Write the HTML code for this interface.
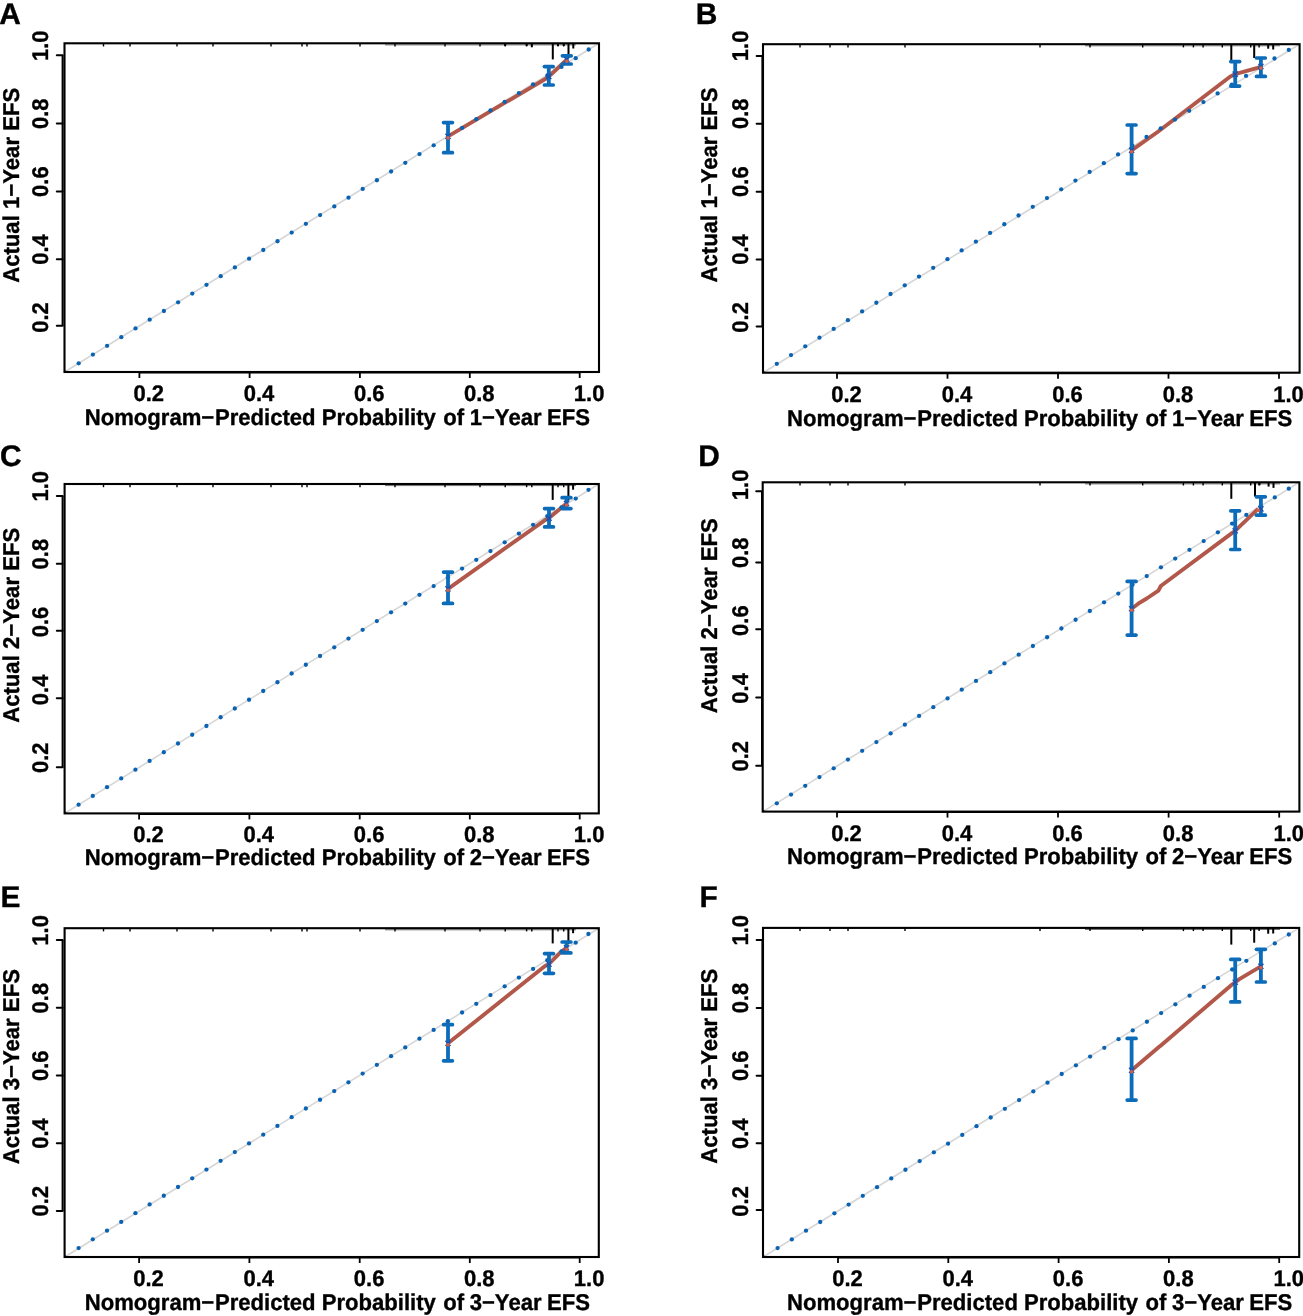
<!DOCTYPE html>
<html><head><meta charset="utf-8"><title>Calibration curves</title>
<style>html,body{margin:0;padding:0;background:#fff;}svg{display:block;filter:blur(0.45px);}text{font-family:'Liberation Sans',sans-serif;font-weight:bold;fill:#000;text-rendering:geometricPrecision;stroke:#000;stroke-width:0.35px;stroke-linejoin:round;}</style>
</head><body>
<svg width="1303" height="1316" viewBox="0 0 1303 1316">
<rect width="1303" height="1316" fill="#fff"/>
<g><line x1="64.5" y1="372" x2="599" y2="43.3" stroke="#d6d6d6" stroke-width="1.6"/>
<line x1="385" y1="44.9" x2="576" y2="44.9" stroke="#000" stroke-width="1" stroke-opacity="0.55"/>
<line x1="103.5" y1="43.3" x2="103.5" y2="46.5" stroke="#000" stroke-width="1.4"/>
<line x1="130" y1="43.3" x2="130" y2="46.5" stroke="#000" stroke-width="1.4"/>
<line x1="177" y1="43.3" x2="177" y2="46.5" stroke="#000" stroke-width="1.4"/>
<line x1="213" y1="43.3" x2="213" y2="46.5" stroke="#000" stroke-width="1.4"/>
<line x1="271" y1="43.3" x2="271" y2="46.5" stroke="#000" stroke-width="1.4"/>
<line x1="302" y1="43.3" x2="302" y2="46.5" stroke="#000" stroke-width="1.4"/>
<line x1="307" y1="43.3" x2="307" y2="46.5" stroke="#000" stroke-width="1.4"/>
<line x1="360" y1="43.3" x2="360" y2="46.5" stroke="#000" stroke-width="1.4"/>
<line x1="395" y1="43.3" x2="395" y2="46.5" stroke="#000" stroke-width="1.4"/>
<line x1="445" y1="43.3" x2="445" y2="46.5" stroke="#000" stroke-width="1.4"/>
<line x1="480" y1="43.3" x2="480" y2="46.5" stroke="#000" stroke-width="1.4"/>
<line x1="505.2" y1="43.3" x2="505.2" y2="46.5" stroke="#000" stroke-width="1.4"/>
<line x1="526.6" y1="43.3" x2="526.6" y2="46.5" stroke="#000" stroke-width="1.4"/>
<line x1="531.8" y1="43.3" x2="531.8" y2="46.5" stroke="#000" stroke-width="1.4"/>
<line x1="558" y1="43.3" x2="558" y2="46.5" stroke="#000" stroke-width="1.4"/>
<line x1="563.7" y1="43.3" x2="563.7" y2="46.5" stroke="#000" stroke-width="1.4"/>
<line x1="552.8" y1="43.3" x2="552.8" y2="59.4" stroke="#000" stroke-width="2.0"/>
<line x1="568.5" y1="43.3" x2="568.5" y2="57.8" stroke="#000" stroke-width="2.0"/>
<line x1="573.3" y1="43.3" x2="573.3" y2="48.5" stroke="#000" stroke-width="2.0"/>
<line x1="505.2" y1="43.3" x2="505.2" y2="46" stroke="#000" stroke-width="2.0"/>
<line x1="526.6" y1="43.3" x2="526.6" y2="46" stroke="#000" stroke-width="2.0"/>
<line x1="531.8" y1="43.3" x2="531.8" y2="47.3" stroke="#000" stroke-width="2.0"/>
<line x1="558" y1="43.3" x2="558" y2="46" stroke="#000" stroke-width="2.0"/>
<line x1="563.7" y1="43.3" x2="563.7" y2="46" stroke="#000" stroke-width="2.0"/>
<polyline points="448,136.4 547.4,77.7 566.8,59.7" fill="none" stroke="#b2584a" stroke-width="3.9" stroke-linejoin="round"/>
<circle cx="65.1" cy="371.4" r="1.2" fill="#0a62b3"/>
<circle cx="78.7" cy="363.3" r="2.15" fill="#0a62b3"/>
<circle cx="92.9" cy="354.58" r="2.15" fill="#0a62b3"/>
<circle cx="107.1" cy="345.87" r="2.15" fill="#0a62b3"/>
<circle cx="121.3" cy="337.15" r="2.15" fill="#0a62b3"/>
<circle cx="135.5" cy="328.43" r="2.15" fill="#0a62b3"/>
<circle cx="149.7" cy="319.71" r="2.15" fill="#0a62b3"/>
<circle cx="163.9" cy="311" r="2.15" fill="#0a62b3"/>
<circle cx="178.1" cy="302.28" r="2.15" fill="#0a62b3"/>
<circle cx="192.3" cy="293.56" r="2.15" fill="#0a62b3"/>
<circle cx="206.5" cy="284.85" r="2.15" fill="#0a62b3"/>
<circle cx="220.7" cy="276.13" r="2.15" fill="#0a62b3"/>
<circle cx="234.9" cy="267.41" r="2.15" fill="#0a62b3"/>
<circle cx="249.1" cy="258.69" r="2.15" fill="#0a62b3"/>
<circle cx="263.3" cy="249.98" r="2.15" fill="#0a62b3"/>
<circle cx="277.5" cy="241.26" r="2.15" fill="#0a62b3"/>
<circle cx="291.7" cy="232.54" r="2.15" fill="#0a62b3"/>
<circle cx="305.9" cy="223.83" r="2.15" fill="#0a62b3"/>
<circle cx="320.1" cy="215.11" r="2.15" fill="#0a62b3"/>
<circle cx="334.3" cy="206.39" r="2.15" fill="#0a62b3"/>
<circle cx="348.5" cy="197.67" r="2.15" fill="#0a62b3"/>
<circle cx="362.7" cy="188.96" r="2.15" fill="#0a62b3"/>
<circle cx="376.9" cy="180.24" r="2.15" fill="#0a62b3"/>
<circle cx="391.1" cy="171.52" r="2.15" fill="#0a62b3"/>
<circle cx="405.3" cy="162.81" r="2.15" fill="#0a62b3"/>
<circle cx="419.5" cy="154.09" r="2.15" fill="#0a62b3"/>
<circle cx="433.7" cy="145.37" r="2.15" fill="#0a62b3"/>
<circle cx="447.9" cy="136.65" r="2.15" fill="#0a62b3"/>
<circle cx="462.1" cy="127.94" r="2.15" fill="#0a62b3"/>
<circle cx="476.3" cy="119.22" r="2.15" fill="#0a62b3"/>
<circle cx="490.5" cy="110.5" r="2.15" fill="#0a62b3"/>
<circle cx="504.7" cy="101.79" r="2.15" fill="#0a62b3"/>
<circle cx="518.9" cy="93.07" r="2.15" fill="#0a62b3"/>
<circle cx="533.1" cy="84.35" r="2.15" fill="#0a62b3"/>
<circle cx="547.3" cy="75.63" r="2.15" fill="#0a62b3"/>
<circle cx="561.5" cy="66.92" r="2.15" fill="#0a62b3"/>
<circle cx="575.7" cy="58.2" r="2.15" fill="#0a62b3"/>
<circle cx="588.7" cy="49.5" r="2.15" fill="#0a62b3"/>
<line x1="448" y1="122.6" x2="448" y2="152.7" stroke="#0d6cb9" stroke-width="3.8"/>
<line x1="443.6" y1="122.6" x2="452.4" y2="122.6" stroke="#0d6cb9" stroke-width="3.7" stroke-linecap="round"/>
<line x1="443.6" y1="152.7" x2="452.4" y2="152.7" stroke="#0d6cb9" stroke-width="3.7" stroke-linecap="round"/>
<path d="M445.4,133.8L450.6,139M445.4,139L450.6,133.8" stroke="#1d4fae" stroke-width="1.3" fill="none"/>
<line x1="548.8" y1="66.6" x2="548.8" y2="85" stroke="#0d6cb9" stroke-width="3.8"/>
<line x1="544.4" y1="66.6" x2="553.2" y2="66.6" stroke="#0d6cb9" stroke-width="3.7" stroke-linecap="round"/>
<line x1="544.4" y1="85" x2="553.2" y2="85" stroke="#0d6cb9" stroke-width="3.7" stroke-linecap="round"/>
<path d="M546.2,73.8L551.4,79M546.2,79L551.4,73.8" stroke="#1d4fae" stroke-width="1.3" fill="none"/>
<line x1="566.8" y1="55.8" x2="566.8" y2="64" stroke="#0d6cb9" stroke-width="3.8"/>
<line x1="562.4" y1="55.8" x2="571.2" y2="55.8" stroke="#0d6cb9" stroke-width="3.7" stroke-linecap="round"/>
<line x1="562.4" y1="64" x2="571.2" y2="64" stroke="#0d6cb9" stroke-width="3.7" stroke-linecap="round"/>
<path d="M564.2,57.1L569.4,62.3M564.2,62.3L569.4,57.1" stroke="#1d4fae" stroke-width="1.3" fill="none"/>
<circle cx="448" cy="137.9" r="1.8" fill="#dd5f42"/>
<circle cx="566.8" cy="61.2" r="1.8" fill="#dd5f42"/>
<rect x="64.5" y="43.3" width="534.5" height="328.7" fill="none" stroke="#000" stroke-width="2.1"/>
<line x1="62.6" y1="55.3" x2="62.6" y2="325.7" stroke="#000" stroke-width="2"/>
<line x1="56.8" y1="325.7" x2="62.6" y2="325.7" stroke="#000" stroke-width="2" stroke-linecap="round"/>
<text transform="translate(47.8 317.45) rotate(-90) scale(1.0 1.03)" text-anchor="middle" font-size="22">0.2</text>
<line x1="56.8" y1="259.2" x2="62.6" y2="259.2" stroke="#000" stroke-width="2" stroke-linecap="round"/>
<text transform="translate(47.8 249.52) rotate(-90) scale(1.0 1.03)" text-anchor="middle" font-size="22">0.4</text>
<line x1="56.8" y1="191.4" x2="62.6" y2="191.4" stroke="#000" stroke-width="2" stroke-linecap="round"/>
<text transform="translate(47.8 181.6) rotate(-90) scale(1.0 1.03)" text-anchor="middle" font-size="22">0.6</text>
<line x1="56.8" y1="123.5" x2="62.6" y2="123.5" stroke="#000" stroke-width="2" stroke-linecap="round"/>
<text transform="translate(47.8 113.68) rotate(-90) scale(1.0 1.03)" text-anchor="middle" font-size="22">0.8</text>
<line x1="56.8" y1="55.3" x2="62.6" y2="55.3" stroke="#000" stroke-width="2" stroke-linecap="round"/>
<text transform="translate(47.8 45.75) rotate(-90) scale(1.0 1.03)" text-anchor="middle" font-size="22">1.0</text>
<line x1="139.4" y1="372.5" x2="579.7" y2="372.5" stroke="#000" stroke-width="2"/>
<line x1="139.4" y1="372" x2="139.4" y2="378" stroke="#000" stroke-width="1.8"/>
<text transform="translate(148.8 401.3) scale(1.0 1.03)" text-anchor="middle" font-size="22">0.2</text>
<line x1="249.6" y1="372" x2="249.6" y2="378" stroke="#000" stroke-width="1.8"/>
<text transform="translate(259 401.3) scale(1.0 1.03)" text-anchor="middle" font-size="22">0.4</text>
<line x1="359.9" y1="372" x2="359.9" y2="378" stroke="#000" stroke-width="1.8"/>
<text transform="translate(369.3 401.3) scale(1.0 1.03)" text-anchor="middle" font-size="22">0.6</text>
<line x1="469.8" y1="372" x2="469.8" y2="378" stroke="#000" stroke-width="1.8"/>
<text transform="translate(479.2 401.3) scale(1.0 1.03)" text-anchor="middle" font-size="22">0.8</text>
<line x1="579.7" y1="372" x2="579.7" y2="378" stroke="#000" stroke-width="1.8"/>
<text transform="translate(589.1 401.3) scale(1.0 1.03)" text-anchor="middle" font-size="22">1.0</text>
<text transform="translate(18.5 185.3) rotate(-90) scale(1.0 1.03)" text-anchor="middle" font-size="22.15">Actual 1−Year EFS</text>
<text transform="translate(84.7 425.3) scale(1.0 1.03)" font-size="22.1">Nomogram−<tspan dx="0.7">Predicted </tspan><tspan dx="-0.1">Probability </tspan><tspan dx="1.2">of </tspan><tspan dx="-0.5">1−Year </tspan><tspan dx="-0.65">EFS</tspan></text>
<text transform="translate(-0.7 24)" text-anchor="start" font-size="29.9">A</text></g>
<g><line x1="763" y1="372.7" x2="1299.6" y2="44.2" stroke="#d6d6d6" stroke-width="1.6"/>
<line x1="1085" y1="45.8" x2="1280" y2="45.8" stroke="#000" stroke-width="1" stroke-opacity="0.55"/>
<line x1="800" y1="44.2" x2="800" y2="47.4" stroke="#000" stroke-width="1.4"/>
<line x1="830" y1="44.2" x2="830" y2="47.4" stroke="#000" stroke-width="1.4"/>
<line x1="848" y1="44.2" x2="848" y2="47.4" stroke="#000" stroke-width="1.4"/>
<line x1="905" y1="44.2" x2="905" y2="47.4" stroke="#000" stroke-width="1.4"/>
<line x1="1040" y1="44.2" x2="1040" y2="47.4" stroke="#000" stroke-width="1.4"/>
<line x1="1090" y1="44.2" x2="1090" y2="47.4" stroke="#000" stroke-width="1.4"/>
<line x1="1142.7" y1="44.2" x2="1142.7" y2="47.4" stroke="#000" stroke-width="1.4"/>
<line x1="1183.4" y1="44.2" x2="1183.4" y2="47.4" stroke="#000" stroke-width="1.4"/>
<line x1="1193.4" y1="44.2" x2="1193.4" y2="47.4" stroke="#000" stroke-width="1.4"/>
<line x1="1203.1" y1="44.2" x2="1203.1" y2="47.4" stroke="#000" stroke-width="1.4"/>
<line x1="1222.3" y1="44.2" x2="1222.3" y2="47.4" stroke="#000" stroke-width="1.4"/>
<line x1="1250.7" y1="44.2" x2="1250.7" y2="47.4" stroke="#000" stroke-width="1.4"/>
<line x1="1259.1" y1="44.2" x2="1259.1" y2="47.4" stroke="#000" stroke-width="1.4"/>
<line x1="1231.3" y1="44.2" x2="1231.3" y2="60.4" stroke="#000" stroke-width="2.0"/>
<line x1="1254.2" y1="44.2" x2="1254.2" y2="58" stroke="#000" stroke-width="2.0"/>
<line x1="1268.2" y1="44.2" x2="1268.2" y2="48.7" stroke="#000" stroke-width="2.0"/>
<line x1="1273.2" y1="44.2" x2="1273.2" y2="49.5" stroke="#000" stroke-width="2.0"/>
<polyline points="1131.6,150.3 1157.6,132 1230,76.7 1235.2,74.1 1256.6,68.2 1260.9,66.5" fill="none" stroke="#b2584a" stroke-width="3.9" stroke-linejoin="round"/>
<circle cx="763.6" cy="372.1" r="1.2" fill="#0a62b3"/>
<circle cx="776.8" cy="363.8" r="2.15" fill="#0a62b3"/>
<circle cx="791.02" cy="355.08" r="2.15" fill="#0a62b3"/>
<circle cx="805.24" cy="346.35" r="2.15" fill="#0a62b3"/>
<circle cx="819.46" cy="337.63" r="2.15" fill="#0a62b3"/>
<circle cx="833.68" cy="328.91" r="2.15" fill="#0a62b3"/>
<circle cx="847.9" cy="320.19" r="2.15" fill="#0a62b3"/>
<circle cx="862.12" cy="311.46" r="2.15" fill="#0a62b3"/>
<circle cx="876.34" cy="302.74" r="2.15" fill="#0a62b3"/>
<circle cx="890.56" cy="294.02" r="2.15" fill="#0a62b3"/>
<circle cx="904.78" cy="285.29" r="2.15" fill="#0a62b3"/>
<circle cx="919" cy="276.57" r="2.15" fill="#0a62b3"/>
<circle cx="933.22" cy="267.85" r="2.15" fill="#0a62b3"/>
<circle cx="947.44" cy="259.13" r="2.15" fill="#0a62b3"/>
<circle cx="961.66" cy="250.4" r="2.15" fill="#0a62b3"/>
<circle cx="975.88" cy="241.68" r="2.15" fill="#0a62b3"/>
<circle cx="990.1" cy="232.96" r="2.15" fill="#0a62b3"/>
<circle cx="1004.32" cy="224.23" r="2.15" fill="#0a62b3"/>
<circle cx="1018.54" cy="215.51" r="2.15" fill="#0a62b3"/>
<circle cx="1032.76" cy="206.79" r="2.15" fill="#0a62b3"/>
<circle cx="1046.98" cy="198.07" r="2.15" fill="#0a62b3"/>
<circle cx="1061.2" cy="189.34" r="2.15" fill="#0a62b3"/>
<circle cx="1075.42" cy="180.62" r="2.15" fill="#0a62b3"/>
<circle cx="1089.64" cy="171.9" r="2.15" fill="#0a62b3"/>
<circle cx="1103.86" cy="163.17" r="2.15" fill="#0a62b3"/>
<circle cx="1118.08" cy="154.45" r="2.15" fill="#0a62b3"/>
<circle cx="1132.3" cy="145.73" r="2.15" fill="#0a62b3"/>
<circle cx="1146.52" cy="137.01" r="2.15" fill="#0a62b3"/>
<circle cx="1160.74" cy="128.28" r="2.15" fill="#0a62b3"/>
<circle cx="1174.96" cy="119.56" r="2.15" fill="#0a62b3"/>
<circle cx="1189.18" cy="110.84" r="2.15" fill="#0a62b3"/>
<circle cx="1203.4" cy="102.11" r="2.15" fill="#0a62b3"/>
<circle cx="1217.62" cy="93.39" r="2.15" fill="#0a62b3"/>
<circle cx="1231.84" cy="84.67" r="2.15" fill="#0a62b3"/>
<circle cx="1246.06" cy="75.95" r="2.15" fill="#0a62b3"/>
<circle cx="1260.28" cy="67.22" r="2.15" fill="#0a62b3"/>
<circle cx="1274.5" cy="58.5" r="2.15" fill="#0a62b3"/>
<circle cx="1288.8" cy="49.9" r="2.15" fill="#0a62b3"/>
<line x1="1131.6" y1="125" x2="1131.6" y2="173.6" stroke="#0d6cb9" stroke-width="3.8"/>
<line x1="1127.2" y1="125" x2="1136" y2="125" stroke="#0d6cb9" stroke-width="3.7" stroke-linecap="round"/>
<line x1="1127.2" y1="173.6" x2="1136" y2="173.6" stroke="#0d6cb9" stroke-width="3.7" stroke-linecap="round"/>
<path d="M1129,147.7L1134.2,152.9M1129,152.9L1134.2,147.7" stroke="#1d4fae" stroke-width="1.3" fill="none"/>
<line x1="1235.2" y1="61.6" x2="1235.2" y2="86.1" stroke="#0d6cb9" stroke-width="3.8"/>
<line x1="1230.8" y1="61.6" x2="1239.6" y2="61.6" stroke="#0d6cb9" stroke-width="3.7" stroke-linecap="round"/>
<line x1="1230.8" y1="86.1" x2="1239.6" y2="86.1" stroke="#0d6cb9" stroke-width="3.7" stroke-linecap="round"/>
<path d="M1232.6,71.5L1237.8,76.7M1232.6,76.7L1237.8,71.5" stroke="#1d4fae" stroke-width="1.3" fill="none"/>
<line x1="1260.9" y1="58" x2="1260.9" y2="76.4" stroke="#0d6cb9" stroke-width="3.8"/>
<line x1="1256.5" y1="58" x2="1265.3" y2="58" stroke="#0d6cb9" stroke-width="3.7" stroke-linecap="round"/>
<line x1="1256.5" y1="76.4" x2="1265.3" y2="76.4" stroke="#0d6cb9" stroke-width="3.7" stroke-linecap="round"/>
<path d="M1258.3,63.9L1263.5,69.1M1258.3,69.1L1263.5,63.9" stroke="#1d4fae" stroke-width="1.3" fill="none"/>
<circle cx="1131.6" cy="151.8" r="1.8" fill="#dd5f42"/>
<circle cx="1260.9" cy="68" r="1.8" fill="#dd5f42"/>
<rect x="763" y="44.2" width="536.6" height="328.5" fill="none" stroke="#000" stroke-width="2.1"/>
<line x1="762.4" y1="56" x2="762.4" y2="326.4" stroke="#000" stroke-width="2"/>
<line x1="756.6" y1="326.4" x2="762.4" y2="326.4" stroke="#000" stroke-width="2" stroke-linecap="round"/>
<text transform="translate(748 317.35) rotate(-90) scale(1.0 1.03)" text-anchor="middle" font-size="22">0.2</text>
<line x1="756.6" y1="259.5" x2="762.4" y2="259.5" stroke="#000" stroke-width="2" stroke-linecap="round"/>
<text transform="translate(748 249.48) rotate(-90) scale(1.0 1.03)" text-anchor="middle" font-size="22">0.4</text>
<line x1="756.6" y1="191.7" x2="762.4" y2="191.7" stroke="#000" stroke-width="2" stroke-linecap="round"/>
<text transform="translate(748 181.6) rotate(-90) scale(1.0 1.03)" text-anchor="middle" font-size="22">0.6</text>
<line x1="756.6" y1="123.8" x2="762.4" y2="123.8" stroke="#000" stroke-width="2" stroke-linecap="round"/>
<text transform="translate(748 113.73) rotate(-90) scale(1.0 1.03)" text-anchor="middle" font-size="22">0.8</text>
<line x1="756.6" y1="56" x2="762.4" y2="56" stroke="#000" stroke-width="2" stroke-linecap="round"/>
<text transform="translate(748 45.85) rotate(-90) scale(1.0 1.03)" text-anchor="middle" font-size="22">1.0</text>
<line x1="837" y1="373.2" x2="1279" y2="373.2" stroke="#000" stroke-width="2"/>
<line x1="837" y1="372.7" x2="837" y2="378.7" stroke="#000" stroke-width="1.8"/>
<text transform="translate(846.5 401.7) scale(1.0 1.03)" text-anchor="middle" font-size="22">0.2</text>
<line x1="947.5" y1="372.7" x2="947.5" y2="378.7" stroke="#000" stroke-width="1.8"/>
<text transform="translate(957 401.7) scale(1.0 1.03)" text-anchor="middle" font-size="22">0.4</text>
<line x1="1058" y1="372.7" x2="1058" y2="378.7" stroke="#000" stroke-width="1.8"/>
<text transform="translate(1067.5 401.7) scale(1.0 1.03)" text-anchor="middle" font-size="22">0.6</text>
<line x1="1168.5" y1="372.7" x2="1168.5" y2="378.7" stroke="#000" stroke-width="1.8"/>
<text transform="translate(1178 401.7) scale(1.0 1.03)" text-anchor="middle" font-size="22">0.8</text>
<line x1="1279" y1="372.7" x2="1279" y2="378.7" stroke="#000" stroke-width="1.8"/>
<text transform="translate(1288.5 401.7) scale(1.0 1.03)" text-anchor="middle" font-size="22">1.0</text>
<text transform="translate(717 184.9) rotate(-90) scale(1.0 1.03)" text-anchor="middle" font-size="22.15">Actual 1−Year EFS</text>
<text transform="translate(787 425.8) scale(1.0 1.03)" font-size="22.1">Nomogram−<tspan dx="0.7">Predicted </tspan><tspan dx="-0.1">Probability </tspan><tspan dx="1.2">of </tspan><tspan dx="-0.5">1−Year </tspan><tspan dx="-0.65">EFS</tspan></text>
<text transform="translate(695.8 24.1)" text-anchor="start" font-size="29.9">B</text></g>
<g><line x1="64.6" y1="813.4" x2="598.8" y2="484" stroke="#d6d6d6" stroke-width="1.6"/>
<line x1="385" y1="485.6" x2="576" y2="485.6" stroke="#000" stroke-width="1" stroke-opacity="0.55"/>
<line x1="103.5" y1="484" x2="103.5" y2="487.2" stroke="#000" stroke-width="1.4"/>
<line x1="130" y1="484" x2="130" y2="487.2" stroke="#000" stroke-width="1.4"/>
<line x1="177" y1="484" x2="177" y2="487.2" stroke="#000" stroke-width="1.4"/>
<line x1="213" y1="484" x2="213" y2="487.2" stroke="#000" stroke-width="1.4"/>
<line x1="271" y1="484" x2="271" y2="487.2" stroke="#000" stroke-width="1.4"/>
<line x1="302" y1="484" x2="302" y2="487.2" stroke="#000" stroke-width="1.4"/>
<line x1="307" y1="484" x2="307" y2="487.2" stroke="#000" stroke-width="1.4"/>
<line x1="360" y1="484" x2="360" y2="487.2" stroke="#000" stroke-width="1.4"/>
<line x1="395" y1="484" x2="395" y2="487.2" stroke="#000" stroke-width="1.4"/>
<line x1="445" y1="484" x2="445" y2="487.2" stroke="#000" stroke-width="1.4"/>
<line x1="480" y1="484" x2="480" y2="487.2" stroke="#000" stroke-width="1.4"/>
<line x1="505.2" y1="484" x2="505.2" y2="487.2" stroke="#000" stroke-width="1.4"/>
<line x1="526.6" y1="484" x2="526.6" y2="487.2" stroke="#000" stroke-width="1.4"/>
<line x1="531.8" y1="484" x2="531.8" y2="487.2" stroke="#000" stroke-width="1.4"/>
<line x1="558" y1="484" x2="558" y2="487.2" stroke="#000" stroke-width="1.4"/>
<line x1="563.7" y1="484" x2="563.7" y2="487.2" stroke="#000" stroke-width="1.4"/>
<line x1="552.7" y1="484" x2="552.7" y2="499.9" stroke="#000" stroke-width="2.0"/>
<line x1="568.4" y1="484" x2="568.4" y2="500.6" stroke="#000" stroke-width="2.0"/>
<line x1="573.1" y1="484" x2="573.1" y2="489.7" stroke="#000" stroke-width="2.0"/>
<polyline points="448,588.8 544.7,520.3 549,518.1 566.5,503.5" fill="none" stroke="#b2584a" stroke-width="3.9" stroke-linejoin="round"/>
<circle cx="65.2" cy="812.8" r="1.2" fill="#0a62b3"/>
<circle cx="78.6" cy="804.7" r="2.15" fill="#0a62b3"/>
<circle cx="92.8" cy="795.95" r="2.15" fill="#0a62b3"/>
<circle cx="107.01" cy="787.21" r="2.15" fill="#0a62b3"/>
<circle cx="121.21" cy="778.46" r="2.15" fill="#0a62b3"/>
<circle cx="135.41" cy="769.72" r="2.15" fill="#0a62b3"/>
<circle cx="149.61" cy="760.97" r="2.15" fill="#0a62b3"/>
<circle cx="163.82" cy="752.23" r="2.15" fill="#0a62b3"/>
<circle cx="178.02" cy="743.48" r="2.15" fill="#0a62b3"/>
<circle cx="192.22" cy="734.73" r="2.15" fill="#0a62b3"/>
<circle cx="206.43" cy="725.99" r="2.15" fill="#0a62b3"/>
<circle cx="220.63" cy="717.24" r="2.15" fill="#0a62b3"/>
<circle cx="234.83" cy="708.5" r="2.15" fill="#0a62b3"/>
<circle cx="249.03" cy="699.75" r="2.15" fill="#0a62b3"/>
<circle cx="263.24" cy="691.01" r="2.15" fill="#0a62b3"/>
<circle cx="277.44" cy="682.26" r="2.15" fill="#0a62b3"/>
<circle cx="291.64" cy="673.51" r="2.15" fill="#0a62b3"/>
<circle cx="305.85" cy="664.77" r="2.15" fill="#0a62b3"/>
<circle cx="320.05" cy="656.02" r="2.15" fill="#0a62b3"/>
<circle cx="334.25" cy="647.28" r="2.15" fill="#0a62b3"/>
<circle cx="348.45" cy="638.53" r="2.15" fill="#0a62b3"/>
<circle cx="362.66" cy="629.79" r="2.15" fill="#0a62b3"/>
<circle cx="376.86" cy="621.04" r="2.15" fill="#0a62b3"/>
<circle cx="391.06" cy="612.29" r="2.15" fill="#0a62b3"/>
<circle cx="405.27" cy="603.55" r="2.15" fill="#0a62b3"/>
<circle cx="419.47" cy="594.8" r="2.15" fill="#0a62b3"/>
<circle cx="433.67" cy="586.06" r="2.15" fill="#0a62b3"/>
<circle cx="447.87" cy="577.31" r="2.15" fill="#0a62b3"/>
<circle cx="462.08" cy="568.57" r="2.15" fill="#0a62b3"/>
<circle cx="476.28" cy="559.82" r="2.15" fill="#0a62b3"/>
<circle cx="490.48" cy="551.07" r="2.15" fill="#0a62b3"/>
<circle cx="504.69" cy="542.33" r="2.15" fill="#0a62b3"/>
<circle cx="518.89" cy="533.58" r="2.15" fill="#0a62b3"/>
<circle cx="533.09" cy="524.84" r="2.15" fill="#0a62b3"/>
<circle cx="547.29" cy="516.09" r="2.15" fill="#0a62b3"/>
<circle cx="561.5" cy="507.35" r="2.15" fill="#0a62b3"/>
<circle cx="575.7" cy="498.6" r="2.15" fill="#0a62b3"/>
<circle cx="588.5" cy="489.8" r="2.15" fill="#0a62b3"/>
<line x1="448" y1="572.1" x2="448" y2="603.4" stroke="#0d6cb9" stroke-width="3.8"/>
<line x1="443.6" y1="572.1" x2="452.4" y2="572.1" stroke="#0d6cb9" stroke-width="3.7" stroke-linecap="round"/>
<line x1="443.6" y1="603.4" x2="452.4" y2="603.4" stroke="#0d6cb9" stroke-width="3.7" stroke-linecap="round"/>
<path d="M445.4,586.2L450.6,591.4M445.4,591.4L450.6,586.2" stroke="#1d4fae" stroke-width="1.3" fill="none"/>
<line x1="549" y1="508.6" x2="549" y2="526.9" stroke="#0d6cb9" stroke-width="3.8"/>
<line x1="544.6" y1="508.6" x2="553.4" y2="508.6" stroke="#0d6cb9" stroke-width="3.7" stroke-linecap="round"/>
<line x1="544.6" y1="526.9" x2="553.4" y2="526.9" stroke="#0d6cb9" stroke-width="3.7" stroke-linecap="round"/>
<path d="M546.4,515.5L551.6,520.7M546.4,520.7L551.6,515.5" stroke="#1d4fae" stroke-width="1.3" fill="none"/>
<line x1="566.5" y1="497.7" x2="566.5" y2="508.6" stroke="#0d6cb9" stroke-width="3.8"/>
<line x1="562.1" y1="497.7" x2="570.9" y2="497.7" stroke="#0d6cb9" stroke-width="3.7" stroke-linecap="round"/>
<line x1="562.1" y1="508.6" x2="570.9" y2="508.6" stroke="#0d6cb9" stroke-width="3.7" stroke-linecap="round"/>
<path d="M563.9,500.9L569.1,506.1M563.9,506.1L569.1,500.9" stroke="#1d4fae" stroke-width="1.3" fill="none"/>
<circle cx="448" cy="590.3" r="1.8" fill="#dd5f42"/>
<circle cx="566.5" cy="505" r="1.8" fill="#dd5f42"/>
<rect x="64.6" y="484" width="534.2" height="329.4" fill="none" stroke="#000" stroke-width="2.1"/>
<line x1="62.6" y1="496" x2="62.6" y2="767.3" stroke="#000" stroke-width="2"/>
<line x1="56.8" y1="767.3" x2="62.6" y2="767.3" stroke="#000" stroke-width="2" stroke-linecap="round"/>
<text transform="translate(47.9 757.75) rotate(-90) scale(1.0 1.03)" text-anchor="middle" font-size="22">0.2</text>
<line x1="56.8" y1="698.3" x2="62.6" y2="698.3" stroke="#000" stroke-width="2" stroke-linecap="round"/>
<text transform="translate(47.9 689.86) rotate(-90) scale(1.0 1.03)" text-anchor="middle" font-size="22">0.4</text>
<line x1="56.8" y1="630.7" x2="62.6" y2="630.7" stroke="#000" stroke-width="2" stroke-linecap="round"/>
<text transform="translate(47.9 621.98) rotate(-90) scale(1.0 1.03)" text-anchor="middle" font-size="22">0.6</text>
<line x1="56.8" y1="563.8" x2="62.6" y2="563.8" stroke="#000" stroke-width="2" stroke-linecap="round"/>
<text transform="translate(47.9 554.09) rotate(-90) scale(1.0 1.03)" text-anchor="middle" font-size="22">0.8</text>
<line x1="56.8" y1="496" x2="62.6" y2="496" stroke="#000" stroke-width="2" stroke-linecap="round"/>
<text transform="translate(47.9 486.2) rotate(-90) scale(1.0 1.03)" text-anchor="middle" font-size="22">1.0</text>
<line x1="139.1" y1="813.9" x2="579.7" y2="813.9" stroke="#000" stroke-width="2"/>
<line x1="139.1" y1="813.4" x2="139.1" y2="819.4" stroke="#000" stroke-width="1.8"/>
<text transform="translate(148.5 841.7) scale(1.0 1.03)" text-anchor="middle" font-size="22">0.2</text>
<line x1="249.4" y1="813.4" x2="249.4" y2="819.4" stroke="#000" stroke-width="1.8"/>
<text transform="translate(258.8 841.7) scale(1.0 1.03)" text-anchor="middle" font-size="22">0.4</text>
<line x1="359.7" y1="813.4" x2="359.7" y2="819.4" stroke="#000" stroke-width="1.8"/>
<text transform="translate(369.1 841.7) scale(1.0 1.03)" text-anchor="middle" font-size="22">0.6</text>
<line x1="469.8" y1="813.4" x2="469.8" y2="819.4" stroke="#000" stroke-width="1.8"/>
<text transform="translate(479.2 841.7) scale(1.0 1.03)" text-anchor="middle" font-size="22">0.8</text>
<line x1="579.7" y1="813.4" x2="579.7" y2="819.4" stroke="#000" stroke-width="1.8"/>
<text transform="translate(589.1 841.7) scale(1.0 1.03)" text-anchor="middle" font-size="22">1.0</text>
<text transform="translate(18.5 625.3) rotate(-90) scale(1.0 1.03)" text-anchor="middle" font-size="22.15">Actual 2−Year EFS</text>
<text transform="translate(84.7 864.9) scale(1.0 1.03)" font-size="22.1">Nomogram−<tspan dx="0.7">Predicted </tspan><tspan dx="-0.1">Probability </tspan><tspan dx="1.2">of </tspan><tspan dx="-0.5">2−Year </tspan><tspan dx="-0.65">EFS</tspan></text>
<text transform="translate(-0.06 466.45)" text-anchor="start" font-size="29.9">C</text></g>
<g><line x1="762.7" y1="811.6" x2="1299.4" y2="482.3" stroke="#d6d6d6" stroke-width="1.6"/>
<line x1="1085" y1="483.9" x2="1280" y2="483.9" stroke="#000" stroke-width="1" stroke-opacity="0.55"/>
<line x1="800" y1="482.3" x2="800" y2="485.5" stroke="#000" stroke-width="1.4"/>
<line x1="830" y1="482.3" x2="830" y2="485.5" stroke="#000" stroke-width="1.4"/>
<line x1="848" y1="482.3" x2="848" y2="485.5" stroke="#000" stroke-width="1.4"/>
<line x1="905" y1="482.3" x2="905" y2="485.5" stroke="#000" stroke-width="1.4"/>
<line x1="1040" y1="482.3" x2="1040" y2="485.5" stroke="#000" stroke-width="1.4"/>
<line x1="1090" y1="482.3" x2="1090" y2="485.5" stroke="#000" stroke-width="1.4"/>
<line x1="1142.7" y1="482.3" x2="1142.7" y2="485.5" stroke="#000" stroke-width="1.4"/>
<line x1="1183.4" y1="482.3" x2="1183.4" y2="485.5" stroke="#000" stroke-width="1.4"/>
<line x1="1193.4" y1="482.3" x2="1193.4" y2="485.5" stroke="#000" stroke-width="1.4"/>
<line x1="1203.1" y1="482.3" x2="1203.1" y2="485.5" stroke="#000" stroke-width="1.4"/>
<line x1="1222.3" y1="482.3" x2="1222.3" y2="485.5" stroke="#000" stroke-width="1.4"/>
<line x1="1250.7" y1="482.3" x2="1250.7" y2="485.5" stroke="#000" stroke-width="1.4"/>
<line x1="1259.1" y1="482.3" x2="1259.1" y2="485.5" stroke="#000" stroke-width="1.4"/>
<line x1="1231.3" y1="482.3" x2="1231.3" y2="498.8" stroke="#000" stroke-width="2.0"/>
<line x1="1255" y1="482.3" x2="1255" y2="496.4" stroke="#000" stroke-width="2.0"/>
<line x1="1259.5" y1="482.3" x2="1259.5" y2="485.2" stroke="#000" stroke-width="2.0"/>
<line x1="1268.6" y1="482.3" x2="1268.6" y2="486.6" stroke="#000" stroke-width="2.0"/>
<line x1="1273.5" y1="482.3" x2="1273.5" y2="487.9" stroke="#000" stroke-width="2.0"/>
<polyline points="1131.6,608.7 1138.2,603.7 1146.7,598.5 1158.4,590.7 1160.8,586 1230.9,533.9 1235.2,530.8 1238.7,527.3 1258.1,508.9" fill="none" stroke="#b2584a" stroke-width="3.9" stroke-linejoin="round"/>
<circle cx="763.3" cy="811" r="1.2" fill="#0a62b3"/>
<circle cx="776.8" cy="803.3" r="2.15" fill="#0a62b3"/>
<circle cx="791.03" cy="794.56" r="2.15" fill="#0a62b3"/>
<circle cx="805.26" cy="785.82" r="2.15" fill="#0a62b3"/>
<circle cx="819.49" cy="777.08" r="2.15" fill="#0a62b3"/>
<circle cx="833.71" cy="768.34" r="2.15" fill="#0a62b3"/>
<circle cx="847.94" cy="759.6" r="2.15" fill="#0a62b3"/>
<circle cx="862.17" cy="750.86" r="2.15" fill="#0a62b3"/>
<circle cx="876.4" cy="742.12" r="2.15" fill="#0a62b3"/>
<circle cx="890.63" cy="733.38" r="2.15" fill="#0a62b3"/>
<circle cx="904.86" cy="724.64" r="2.15" fill="#0a62b3"/>
<circle cx="919.09" cy="715.9" r="2.15" fill="#0a62b3"/>
<circle cx="933.31" cy="707.16" r="2.15" fill="#0a62b3"/>
<circle cx="947.54" cy="698.42" r="2.15" fill="#0a62b3"/>
<circle cx="961.77" cy="689.68" r="2.15" fill="#0a62b3"/>
<circle cx="976" cy="680.94" r="2.15" fill="#0a62b3"/>
<circle cx="990.23" cy="672.2" r="2.15" fill="#0a62b3"/>
<circle cx="1004.46" cy="663.46" r="2.15" fill="#0a62b3"/>
<circle cx="1018.69" cy="654.72" r="2.15" fill="#0a62b3"/>
<circle cx="1032.91" cy="645.98" r="2.15" fill="#0a62b3"/>
<circle cx="1047.14" cy="637.24" r="2.15" fill="#0a62b3"/>
<circle cx="1061.37" cy="628.5" r="2.15" fill="#0a62b3"/>
<circle cx="1075.6" cy="619.76" r="2.15" fill="#0a62b3"/>
<circle cx="1089.83" cy="611.02" r="2.15" fill="#0a62b3"/>
<circle cx="1104.06" cy="602.28" r="2.15" fill="#0a62b3"/>
<circle cx="1118.29" cy="593.54" r="2.15" fill="#0a62b3"/>
<circle cx="1132.51" cy="584.8" r="2.15" fill="#0a62b3"/>
<circle cx="1146.74" cy="576.06" r="2.15" fill="#0a62b3"/>
<circle cx="1160.97" cy="567.32" r="2.15" fill="#0a62b3"/>
<circle cx="1175.2" cy="558.58" r="2.15" fill="#0a62b3"/>
<circle cx="1189.43" cy="549.84" r="2.15" fill="#0a62b3"/>
<circle cx="1203.66" cy="541.1" r="2.15" fill="#0a62b3"/>
<circle cx="1217.89" cy="532.36" r="2.15" fill="#0a62b3"/>
<circle cx="1232.11" cy="523.62" r="2.15" fill="#0a62b3"/>
<circle cx="1246.34" cy="514.88" r="2.15" fill="#0a62b3"/>
<circle cx="1260.57" cy="506.14" r="2.15" fill="#0a62b3"/>
<circle cx="1274.8" cy="497.4" r="2.15" fill="#0a62b3"/>
<circle cx="1288.8" cy="488.7" r="2.15" fill="#0a62b3"/>
<line x1="1131.6" y1="581.4" x2="1131.6" y2="635.1" stroke="#0d6cb9" stroke-width="3.8"/>
<line x1="1127.2" y1="581.4" x2="1136" y2="581.4" stroke="#0d6cb9" stroke-width="3.7" stroke-linecap="round"/>
<line x1="1127.2" y1="635.1" x2="1136" y2="635.1" stroke="#0d6cb9" stroke-width="3.7" stroke-linecap="round"/>
<path d="M1129,606.1L1134.2,611.3M1129,611.3L1134.2,606.1" stroke="#1d4fae" stroke-width="1.3" fill="none"/>
<line x1="1235.2" y1="510.8" x2="1235.2" y2="549.5" stroke="#0d6cb9" stroke-width="3.8"/>
<line x1="1230.8" y1="510.8" x2="1239.6" y2="510.8" stroke="#0d6cb9" stroke-width="3.7" stroke-linecap="round"/>
<line x1="1230.8" y1="549.5" x2="1239.6" y2="549.5" stroke="#0d6cb9" stroke-width="3.7" stroke-linecap="round"/>
<path d="M1232.6,528.2L1237.8,533.4M1232.6,533.4L1237.8,528.2" stroke="#1d4fae" stroke-width="1.3" fill="none"/>
<line x1="1260.9" y1="496.8" x2="1260.9" y2="515.2" stroke="#0d6cb9" stroke-width="3.8"/>
<line x1="1256.5" y1="496.8" x2="1265.3" y2="496.8" stroke="#0d6cb9" stroke-width="3.7" stroke-linecap="round"/>
<line x1="1256.5" y1="515.2" x2="1265.3" y2="515.2" stroke="#0d6cb9" stroke-width="3.7" stroke-linecap="round"/>
<path d="M1258.3,506.3L1263.5,511.5M1258.3,511.5L1263.5,506.3" stroke="#1d4fae" stroke-width="1.3" fill="none"/>
<circle cx="1131.6" cy="610.2" r="1.8" fill="#dd5f42"/>
<circle cx="1258.1" cy="510.4" r="1.8" fill="#dd5f42"/>
<rect x="762.7" y="482.3" width="536.7" height="329.3" fill="none" stroke="#000" stroke-width="2.1"/>
<line x1="762" y1="491.2" x2="762" y2="765.7" stroke="#000" stroke-width="2"/>
<line x1="756.2" y1="765.7" x2="762" y2="765.7" stroke="#000" stroke-width="2" stroke-linecap="round"/>
<text transform="translate(747.8 756.25) rotate(-90) scale(1.0 1.03)" text-anchor="middle" font-size="22">0.2</text>
<line x1="756.2" y1="697.4" x2="762" y2="697.4" stroke="#000" stroke-width="2" stroke-linecap="round"/>
<text transform="translate(747.8 688.41) rotate(-90) scale(1.0 1.03)" text-anchor="middle" font-size="22">0.4</text>
<line x1="756.2" y1="629.3" x2="762" y2="629.3" stroke="#000" stroke-width="2" stroke-linecap="round"/>
<text transform="translate(747.8 620.58) rotate(-90) scale(1.0 1.03)" text-anchor="middle" font-size="22">0.6</text>
<line x1="756.2" y1="562.6" x2="762" y2="562.6" stroke="#000" stroke-width="2" stroke-linecap="round"/>
<text transform="translate(747.8 552.74) rotate(-90) scale(1.0 1.03)" text-anchor="middle" font-size="22">0.8</text>
<line x1="756.2" y1="491.2" x2="762" y2="491.2" stroke="#000" stroke-width="2" stroke-linecap="round"/>
<text transform="translate(747.8 484.9) rotate(-90) scale(1.0 1.03)" text-anchor="middle" font-size="22">1.0</text>
<line x1="837" y1="812.1" x2="1279.2" y2="812.1" stroke="#000" stroke-width="2"/>
<line x1="837" y1="811.6" x2="837" y2="817.6" stroke="#000" stroke-width="1.8"/>
<text transform="translate(846.5 840.6) scale(1.0 1.03)" text-anchor="middle" font-size="22">0.2</text>
<line x1="947.5" y1="811.6" x2="947.5" y2="817.6" stroke="#000" stroke-width="1.8"/>
<text transform="translate(957 840.6) scale(1.0 1.03)" text-anchor="middle" font-size="22">0.4</text>
<line x1="1058" y1="811.6" x2="1058" y2="817.6" stroke="#000" stroke-width="1.8"/>
<text transform="translate(1067.5 840.6) scale(1.0 1.03)" text-anchor="middle" font-size="22">0.6</text>
<line x1="1168.6" y1="811.6" x2="1168.6" y2="817.6" stroke="#000" stroke-width="1.8"/>
<text transform="translate(1178.1 840.6) scale(1.0 1.03)" text-anchor="middle" font-size="22">0.8</text>
<line x1="1279.2" y1="811.6" x2="1279.2" y2="817.6" stroke="#000" stroke-width="1.8"/>
<text transform="translate(1288.7 840.6) scale(1.0 1.03)" text-anchor="middle" font-size="22">1.0</text>
<text transform="translate(717 615.7) rotate(-90) scale(1.0 1.03)" text-anchor="middle" font-size="22.15">Actual 2−Year EFS</text>
<text transform="translate(787 863.9) scale(1.0 1.03)" font-size="22.1">Nomogram−<tspan dx="0.7">Predicted </tspan><tspan dx="-0.1">Probability </tspan><tspan dx="1.2">of </tspan><tspan dx="-0.5">2−Year </tspan><tspan dx="-0.65">EFS</tspan></text>
<text transform="translate(698.2 466.2)" text-anchor="start" font-size="29.9">D</text></g>
<g><line x1="64.6" y1="1257" x2="598.8" y2="928.2" stroke="#d6d6d6" stroke-width="1.6"/>
<line x1="385" y1="929.8" x2="576" y2="929.8" stroke="#000" stroke-width="1" stroke-opacity="0.55"/>
<line x1="103.5" y1="928.2" x2="103.5" y2="931.4" stroke="#000" stroke-width="1.4"/>
<line x1="130" y1="928.2" x2="130" y2="931.4" stroke="#000" stroke-width="1.4"/>
<line x1="177" y1="928.2" x2="177" y2="931.4" stroke="#000" stroke-width="1.4"/>
<line x1="213" y1="928.2" x2="213" y2="931.4" stroke="#000" stroke-width="1.4"/>
<line x1="271" y1="928.2" x2="271" y2="931.4" stroke="#000" stroke-width="1.4"/>
<line x1="302" y1="928.2" x2="302" y2="931.4" stroke="#000" stroke-width="1.4"/>
<line x1="307" y1="928.2" x2="307" y2="931.4" stroke="#000" stroke-width="1.4"/>
<line x1="360" y1="928.2" x2="360" y2="931.4" stroke="#000" stroke-width="1.4"/>
<line x1="395" y1="928.2" x2="395" y2="931.4" stroke="#000" stroke-width="1.4"/>
<line x1="445" y1="928.2" x2="445" y2="931.4" stroke="#000" stroke-width="1.4"/>
<line x1="480" y1="928.2" x2="480" y2="931.4" stroke="#000" stroke-width="1.4"/>
<line x1="505.2" y1="928.2" x2="505.2" y2="931.4" stroke="#000" stroke-width="1.4"/>
<line x1="526.6" y1="928.2" x2="526.6" y2="931.4" stroke="#000" stroke-width="1.4"/>
<line x1="531.8" y1="928.2" x2="531.8" y2="931.4" stroke="#000" stroke-width="1.4"/>
<line x1="558" y1="928.2" x2="558" y2="931.4" stroke="#000" stroke-width="1.4"/>
<line x1="563.7" y1="928.2" x2="563.7" y2="931.4" stroke="#000" stroke-width="1.4"/>
<line x1="552.7" y1="928.2" x2="552.7" y2="943.4" stroke="#000" stroke-width="2.0"/>
<line x1="568.4" y1="928.2" x2="568.4" y2="944.2" stroke="#000" stroke-width="2.0"/>
<line x1="573.1" y1="928.2" x2="573.1" y2="933.2" stroke="#000" stroke-width="2.0"/>
<polyline points="448,1043.3 544.7,966.3 549,964 560.7,952.2 566.5,947.8" fill="none" stroke="#b2584a" stroke-width="3.9" stroke-linejoin="round"/>
<circle cx="65.2" cy="1256.4" r="1.2" fill="#0a62b3"/>
<circle cx="78.6" cy="1248.1" r="2.15" fill="#0a62b3"/>
<circle cx="92.8" cy="1239.37" r="2.15" fill="#0a62b3"/>
<circle cx="107.01" cy="1230.65" r="2.15" fill="#0a62b3"/>
<circle cx="121.21" cy="1221.92" r="2.15" fill="#0a62b3"/>
<circle cx="135.41" cy="1213.2" r="2.15" fill="#0a62b3"/>
<circle cx="149.61" cy="1204.47" r="2.15" fill="#0a62b3"/>
<circle cx="163.82" cy="1195.75" r="2.15" fill="#0a62b3"/>
<circle cx="178.02" cy="1187.02" r="2.15" fill="#0a62b3"/>
<circle cx="192.22" cy="1178.29" r="2.15" fill="#0a62b3"/>
<circle cx="206.43" cy="1169.57" r="2.15" fill="#0a62b3"/>
<circle cx="220.63" cy="1160.84" r="2.15" fill="#0a62b3"/>
<circle cx="234.83" cy="1152.12" r="2.15" fill="#0a62b3"/>
<circle cx="249.03" cy="1143.39" r="2.15" fill="#0a62b3"/>
<circle cx="263.24" cy="1134.67" r="2.15" fill="#0a62b3"/>
<circle cx="277.44" cy="1125.94" r="2.15" fill="#0a62b3"/>
<circle cx="291.64" cy="1117.21" r="2.15" fill="#0a62b3"/>
<circle cx="305.85" cy="1108.49" r="2.15" fill="#0a62b3"/>
<circle cx="320.05" cy="1099.76" r="2.15" fill="#0a62b3"/>
<circle cx="334.25" cy="1091.04" r="2.15" fill="#0a62b3"/>
<circle cx="348.45" cy="1082.31" r="2.15" fill="#0a62b3"/>
<circle cx="362.66" cy="1073.59" r="2.15" fill="#0a62b3"/>
<circle cx="376.86" cy="1064.86" r="2.15" fill="#0a62b3"/>
<circle cx="391.06" cy="1056.13" r="2.15" fill="#0a62b3"/>
<circle cx="405.27" cy="1047.41" r="2.15" fill="#0a62b3"/>
<circle cx="419.47" cy="1038.68" r="2.15" fill="#0a62b3"/>
<circle cx="433.67" cy="1029.96" r="2.15" fill="#0a62b3"/>
<circle cx="447.87" cy="1021.23" r="2.15" fill="#0a62b3"/>
<circle cx="462.08" cy="1012.51" r="2.15" fill="#0a62b3"/>
<circle cx="476.28" cy="1003.78" r="2.15" fill="#0a62b3"/>
<circle cx="490.48" cy="995.05" r="2.15" fill="#0a62b3"/>
<circle cx="504.69" cy="986.33" r="2.15" fill="#0a62b3"/>
<circle cx="518.89" cy="977.6" r="2.15" fill="#0a62b3"/>
<circle cx="533.09" cy="968.88" r="2.15" fill="#0a62b3"/>
<circle cx="547.29" cy="960.15" r="2.15" fill="#0a62b3"/>
<circle cx="561.5" cy="951.43" r="2.15" fill="#0a62b3"/>
<circle cx="575.7" cy="942.7" r="2.15" fill="#0a62b3"/>
<circle cx="588.4" cy="934" r="2.15" fill="#0a62b3"/>
<line x1="448" y1="1024.7" x2="448" y2="1060.8" stroke="#0d6cb9" stroke-width="3.8"/>
<line x1="443.6" y1="1024.7" x2="452.4" y2="1024.7" stroke="#0d6cb9" stroke-width="3.7" stroke-linecap="round"/>
<line x1="443.6" y1="1060.8" x2="452.4" y2="1060.8" stroke="#0d6cb9" stroke-width="3.7" stroke-linecap="round"/>
<path d="M445.4,1040.7L450.6,1045.9M445.4,1045.9L450.6,1040.7" stroke="#1d4fae" stroke-width="1.3" fill="none"/>
<line x1="549" y1="953.6" x2="549" y2="973.3" stroke="#0d6cb9" stroke-width="3.8"/>
<line x1="544.6" y1="953.6" x2="553.4" y2="953.6" stroke="#0d6cb9" stroke-width="3.7" stroke-linecap="round"/>
<line x1="544.6" y1="973.3" x2="553.4" y2="973.3" stroke="#0d6cb9" stroke-width="3.7" stroke-linecap="round"/>
<path d="M546.4,961.4L551.6,966.6M546.4,966.6L551.6,961.4" stroke="#1d4fae" stroke-width="1.3" fill="none"/>
<line x1="566.5" y1="942" x2="566.5" y2="952.9" stroke="#0d6cb9" stroke-width="3.8"/>
<line x1="562.1" y1="942" x2="570.9" y2="942" stroke="#0d6cb9" stroke-width="3.7" stroke-linecap="round"/>
<line x1="562.1" y1="952.9" x2="570.9" y2="952.9" stroke="#0d6cb9" stroke-width="3.7" stroke-linecap="round"/>
<path d="M563.9,945.2L569.1,950.4M563.9,950.4L569.1,945.2" stroke="#1d4fae" stroke-width="1.3" fill="none"/>
<circle cx="448" cy="1044.8" r="1.8" fill="#dd5f42"/>
<circle cx="566.5" cy="949.3" r="1.8" fill="#dd5f42"/>
<rect x="64.6" y="928.2" width="534.2" height="328.8" fill="none" stroke="#000" stroke-width="2.1"/>
<line x1="62.6" y1="939.9" x2="62.6" y2="1210.9" stroke="#000" stroke-width="2"/>
<line x1="56.8" y1="1210.9" x2="62.6" y2="1210.9" stroke="#000" stroke-width="2" stroke-linecap="round"/>
<text transform="translate(47.9 1201.15) rotate(-90) scale(1.0 1.03)" text-anchor="middle" font-size="22">0.2</text>
<line x1="56.8" y1="1143.2" x2="62.6" y2="1143.2" stroke="#000" stroke-width="2" stroke-linecap="round"/>
<text transform="translate(47.9 1133.46) rotate(-90) scale(1.0 1.03)" text-anchor="middle" font-size="22">0.4</text>
<line x1="56.8" y1="1075.4" x2="62.6" y2="1075.4" stroke="#000" stroke-width="2" stroke-linecap="round"/>
<text transform="translate(47.9 1065.78) rotate(-90) scale(1.0 1.03)" text-anchor="middle" font-size="22">0.6</text>
<line x1="56.8" y1="1007.7" x2="62.6" y2="1007.7" stroke="#000" stroke-width="2" stroke-linecap="round"/>
<text transform="translate(47.9 998.09) rotate(-90) scale(1.0 1.03)" text-anchor="middle" font-size="22">0.8</text>
<line x1="56.8" y1="939.9" x2="62.6" y2="939.9" stroke="#000" stroke-width="2" stroke-linecap="round"/>
<text transform="translate(47.9 930.4) rotate(-90) scale(1.0 1.03)" text-anchor="middle" font-size="22">1.0</text>
<line x1="139.1" y1="1257.5" x2="579.7" y2="1257.5" stroke="#000" stroke-width="2"/>
<line x1="139.1" y1="1257" x2="139.1" y2="1263" stroke="#000" stroke-width="1.8"/>
<text transform="translate(148.5 1286.3) scale(1.0 1.03)" text-anchor="middle" font-size="22">0.2</text>
<line x1="249.4" y1="1257" x2="249.4" y2="1263" stroke="#000" stroke-width="1.8"/>
<text transform="translate(258.8 1286.3) scale(1.0 1.03)" text-anchor="middle" font-size="22">0.4</text>
<line x1="359.7" y1="1257" x2="359.7" y2="1263" stroke="#000" stroke-width="1.8"/>
<text transform="translate(369.1 1286.3) scale(1.0 1.03)" text-anchor="middle" font-size="22">0.6</text>
<line x1="469.8" y1="1257" x2="469.8" y2="1263" stroke="#000" stroke-width="1.8"/>
<text transform="translate(479.2 1286.3) scale(1.0 1.03)" text-anchor="middle" font-size="22">0.8</text>
<line x1="579.7" y1="1257" x2="579.7" y2="1263" stroke="#000" stroke-width="1.8"/>
<text transform="translate(589.1 1286.3) scale(1.0 1.03)" text-anchor="middle" font-size="22">1.0</text>
<text transform="translate(18.5 1066.6) rotate(-90) scale(1.0 1.03)" text-anchor="middle" font-size="22.15">Actual 3−Year EFS</text>
<text transform="translate(84.7 1310.1) scale(1.0 1.03)" font-size="22.1">Nomogram−<tspan dx="0.7">Predicted </tspan><tspan dx="-0.1">Probability </tspan><tspan dx="1.2">of </tspan><tspan dx="-0.5">3−Year </tspan><tspan dx="-0.65">EFS</tspan></text>
<text transform="translate(0.56 906.8)" text-anchor="start" font-size="29.9">E</text></g>
<g><line x1="763" y1="1257" x2="1299.2" y2="927.9" stroke="#d6d6d6" stroke-width="1.6"/>
<line x1="1085" y1="929.5" x2="1280" y2="929.5" stroke="#000" stroke-width="1" stroke-opacity="0.55"/>
<line x1="800" y1="927.9" x2="800" y2="931.1" stroke="#000" stroke-width="1.4"/>
<line x1="830" y1="927.9" x2="830" y2="931.1" stroke="#000" stroke-width="1.4"/>
<line x1="848" y1="927.9" x2="848" y2="931.1" stroke="#000" stroke-width="1.4"/>
<line x1="905" y1="927.9" x2="905" y2="931.1" stroke="#000" stroke-width="1.4"/>
<line x1="1040" y1="927.9" x2="1040" y2="931.1" stroke="#000" stroke-width="1.4"/>
<line x1="1090" y1="927.9" x2="1090" y2="931.1" stroke="#000" stroke-width="1.4"/>
<line x1="1142.7" y1="927.9" x2="1142.7" y2="931.1" stroke="#000" stroke-width="1.4"/>
<line x1="1183.4" y1="927.9" x2="1183.4" y2="931.1" stroke="#000" stroke-width="1.4"/>
<line x1="1193.4" y1="927.9" x2="1193.4" y2="931.1" stroke="#000" stroke-width="1.4"/>
<line x1="1203.1" y1="927.9" x2="1203.1" y2="931.1" stroke="#000" stroke-width="1.4"/>
<line x1="1222.3" y1="927.9" x2="1222.3" y2="931.1" stroke="#000" stroke-width="1.4"/>
<line x1="1250.7" y1="927.9" x2="1250.7" y2="931.1" stroke="#000" stroke-width="1.4"/>
<line x1="1259.1" y1="927.9" x2="1259.1" y2="931.1" stroke="#000" stroke-width="1.4"/>
<line x1="1231.3" y1="927.9" x2="1231.3" y2="944.6" stroke="#000" stroke-width="2.0"/>
<line x1="1254.2" y1="927.9" x2="1254.2" y2="942.7" stroke="#000" stroke-width="2.0"/>
<line x1="1268.2" y1="927.9" x2="1268.2" y2="933.7" stroke="#000" stroke-width="2.0"/>
<line x1="1273.2" y1="927.9" x2="1273.2" y2="933.5" stroke="#000" stroke-width="2.0"/>
<polyline points="1131.6,1070.3 1159.5,1046.6 1160.9,1045.4 1231.8,984.7 1235.2,982.2 1239.4,979.2 1256.6,968.9 1260.9,966.3" fill="none" stroke="#b2584a" stroke-width="3.9" stroke-linejoin="round"/>
<circle cx="763.6" cy="1256.4" r="1.2" fill="#0a62b3"/>
<circle cx="777.6" cy="1248.1" r="2.15" fill="#0a62b3"/>
<circle cx="791.81" cy="1239.39" r="2.15" fill="#0a62b3"/>
<circle cx="806.01" cy="1230.69" r="2.15" fill="#0a62b3"/>
<circle cx="820.22" cy="1221.98" r="2.15" fill="#0a62b3"/>
<circle cx="834.42" cy="1213.28" r="2.15" fill="#0a62b3"/>
<circle cx="848.63" cy="1204.57" r="2.15" fill="#0a62b3"/>
<circle cx="862.83" cy="1195.87" r="2.15" fill="#0a62b3"/>
<circle cx="877.04" cy="1187.16" r="2.15" fill="#0a62b3"/>
<circle cx="891.25" cy="1178.45" r="2.15" fill="#0a62b3"/>
<circle cx="905.45" cy="1169.75" r="2.15" fill="#0a62b3"/>
<circle cx="919.66" cy="1161.04" r="2.15" fill="#0a62b3"/>
<circle cx="933.86" cy="1152.34" r="2.15" fill="#0a62b3"/>
<circle cx="948.07" cy="1143.63" r="2.15" fill="#0a62b3"/>
<circle cx="962.27" cy="1134.93" r="2.15" fill="#0a62b3"/>
<circle cx="976.48" cy="1126.22" r="2.15" fill="#0a62b3"/>
<circle cx="990.69" cy="1117.51" r="2.15" fill="#0a62b3"/>
<circle cx="1004.89" cy="1108.81" r="2.15" fill="#0a62b3"/>
<circle cx="1019.1" cy="1100.1" r="2.15" fill="#0a62b3"/>
<circle cx="1033.3" cy="1091.4" r="2.15" fill="#0a62b3"/>
<circle cx="1047.51" cy="1082.69" r="2.15" fill="#0a62b3"/>
<circle cx="1061.71" cy="1073.99" r="2.15" fill="#0a62b3"/>
<circle cx="1075.92" cy="1065.28" r="2.15" fill="#0a62b3"/>
<circle cx="1090.13" cy="1056.57" r="2.15" fill="#0a62b3"/>
<circle cx="1104.33" cy="1047.87" r="2.15" fill="#0a62b3"/>
<circle cx="1118.54" cy="1039.16" r="2.15" fill="#0a62b3"/>
<circle cx="1132.74" cy="1030.46" r="2.15" fill="#0a62b3"/>
<circle cx="1146.95" cy="1021.75" r="2.15" fill="#0a62b3"/>
<circle cx="1161.15" cy="1013.05" r="2.15" fill="#0a62b3"/>
<circle cx="1175.36" cy="1004.34" r="2.15" fill="#0a62b3"/>
<circle cx="1189.57" cy="995.63" r="2.15" fill="#0a62b3"/>
<circle cx="1203.77" cy="986.93" r="2.15" fill="#0a62b3"/>
<circle cx="1217.98" cy="978.22" r="2.15" fill="#0a62b3"/>
<circle cx="1232.18" cy="969.52" r="2.15" fill="#0a62b3"/>
<circle cx="1246.39" cy="960.81" r="2.15" fill="#0a62b3"/>
<circle cx="1260.59" cy="952.11" r="2.15" fill="#0a62b3"/>
<circle cx="1274.8" cy="943.4" r="2.15" fill="#0a62b3"/>
<circle cx="1288.8" cy="934.5" r="2.15" fill="#0a62b3"/>
<line x1="1131.6" y1="1038.4" x2="1131.6" y2="1100.1" stroke="#0d6cb9" stroke-width="3.8"/>
<line x1="1127.2" y1="1038.4" x2="1136" y2="1038.4" stroke="#0d6cb9" stroke-width="3.7" stroke-linecap="round"/>
<line x1="1127.2" y1="1100.1" x2="1136" y2="1100.1" stroke="#0d6cb9" stroke-width="3.7" stroke-linecap="round"/>
<path d="M1129,1067.7L1134.2,1072.9M1129,1072.9L1134.2,1067.7" stroke="#1d4fae" stroke-width="1.3" fill="none"/>
<line x1="1235.2" y1="959.4" x2="1235.2" y2="1001.9" stroke="#0d6cb9" stroke-width="3.8"/>
<line x1="1230.8" y1="959.4" x2="1239.6" y2="959.4" stroke="#0d6cb9" stroke-width="3.7" stroke-linecap="round"/>
<line x1="1230.8" y1="1001.9" x2="1239.6" y2="1001.9" stroke="#0d6cb9" stroke-width="3.7" stroke-linecap="round"/>
<path d="M1232.6,979.6L1237.8,984.8M1232.6,984.8L1237.8,979.6" stroke="#1d4fae" stroke-width="1.3" fill="none"/>
<line x1="1260.9" y1="949.3" x2="1260.9" y2="982" stroke="#0d6cb9" stroke-width="3.8"/>
<line x1="1256.5" y1="949.3" x2="1265.3" y2="949.3" stroke="#0d6cb9" stroke-width="3.7" stroke-linecap="round"/>
<line x1="1256.5" y1="982" x2="1265.3" y2="982" stroke="#0d6cb9" stroke-width="3.7" stroke-linecap="round"/>
<path d="M1258.3,963.7L1263.5,968.9M1258.3,968.9L1263.5,963.7" stroke="#1d4fae" stroke-width="1.3" fill="none"/>
<circle cx="1131.6" cy="1071.8" r="1.8" fill="#dd5f42"/>
<circle cx="1260.9" cy="967.8" r="1.8" fill="#dd5f42"/>
<rect x="763" y="927.9" width="536.2" height="329.1" fill="none" stroke="#000" stroke-width="2.1"/>
<line x1="762.4" y1="939.9" x2="762.4" y2="1210" stroke="#000" stroke-width="2"/>
<line x1="756.6" y1="1210" x2="762.4" y2="1210" stroke="#000" stroke-width="2" stroke-linecap="round"/>
<text transform="translate(748 1201.35) rotate(-90) scale(1.0 1.03)" text-anchor="middle" font-size="22">0.2</text>
<line x1="756.6" y1="1143.3" x2="762.4" y2="1143.3" stroke="#000" stroke-width="2" stroke-linecap="round"/>
<text transform="translate(748 1133.59) rotate(-90) scale(1.0 1.03)" text-anchor="middle" font-size="22">0.4</text>
<line x1="756.6" y1="1075.7" x2="762.4" y2="1075.7" stroke="#000" stroke-width="2" stroke-linecap="round"/>
<text transform="translate(748 1065.82) rotate(-90) scale(1.0 1.03)" text-anchor="middle" font-size="22">0.6</text>
<line x1="756.6" y1="1007.9" x2="762.4" y2="1007.9" stroke="#000" stroke-width="2" stroke-linecap="round"/>
<text transform="translate(748 998.06) rotate(-90) scale(1.0 1.03)" text-anchor="middle" font-size="22">0.8</text>
<line x1="756.6" y1="939.9" x2="762.4" y2="939.9" stroke="#000" stroke-width="2" stroke-linecap="round"/>
<text transform="translate(748 930.3) rotate(-90) scale(1.0 1.03)" text-anchor="middle" font-size="22">1.0</text>
<line x1="838" y1="1257.5" x2="1279.2" y2="1257.5" stroke="#000" stroke-width="2"/>
<line x1="838" y1="1257" x2="838" y2="1263" stroke="#000" stroke-width="1.8"/>
<text transform="translate(847.5 1286.2) scale(1.0 1.03)" text-anchor="middle" font-size="22">0.2</text>
<line x1="948.3" y1="1257" x2="948.3" y2="1263" stroke="#000" stroke-width="1.8"/>
<text transform="translate(957.8 1286.2) scale(1.0 1.03)" text-anchor="middle" font-size="22">0.4</text>
<line x1="1058.6" y1="1257" x2="1058.6" y2="1263" stroke="#000" stroke-width="1.8"/>
<text transform="translate(1068.1 1286.2) scale(1.0 1.03)" text-anchor="middle" font-size="22">0.6</text>
<line x1="1168.9" y1="1257" x2="1168.9" y2="1263" stroke="#000" stroke-width="1.8"/>
<text transform="translate(1178.4 1286.2) scale(1.0 1.03)" text-anchor="middle" font-size="22">0.8</text>
<line x1="1279.2" y1="1257" x2="1279.2" y2="1263" stroke="#000" stroke-width="1.8"/>
<text transform="translate(1288.7 1286.2) scale(1.0 1.03)" text-anchor="middle" font-size="22">1.0</text>
<text transform="translate(717 1066.2) rotate(-90) scale(1.0 1.03)" text-anchor="middle" font-size="22.15">Actual 3−Year EFS</text>
<text transform="translate(787 1310.1) scale(1.0 1.03)" font-size="22.1">Nomogram−<tspan dx="0.7">Predicted </tspan><tspan dx="-0.1">Probability </tspan><tspan dx="1.2">of </tspan><tspan dx="-0.5">3−Year </tspan><tspan dx="-0.65">EFS</tspan></text>
<text transform="translate(699.6 906.8)" text-anchor="start" font-size="29.9">F</text></g>
</svg>
</body></html>
